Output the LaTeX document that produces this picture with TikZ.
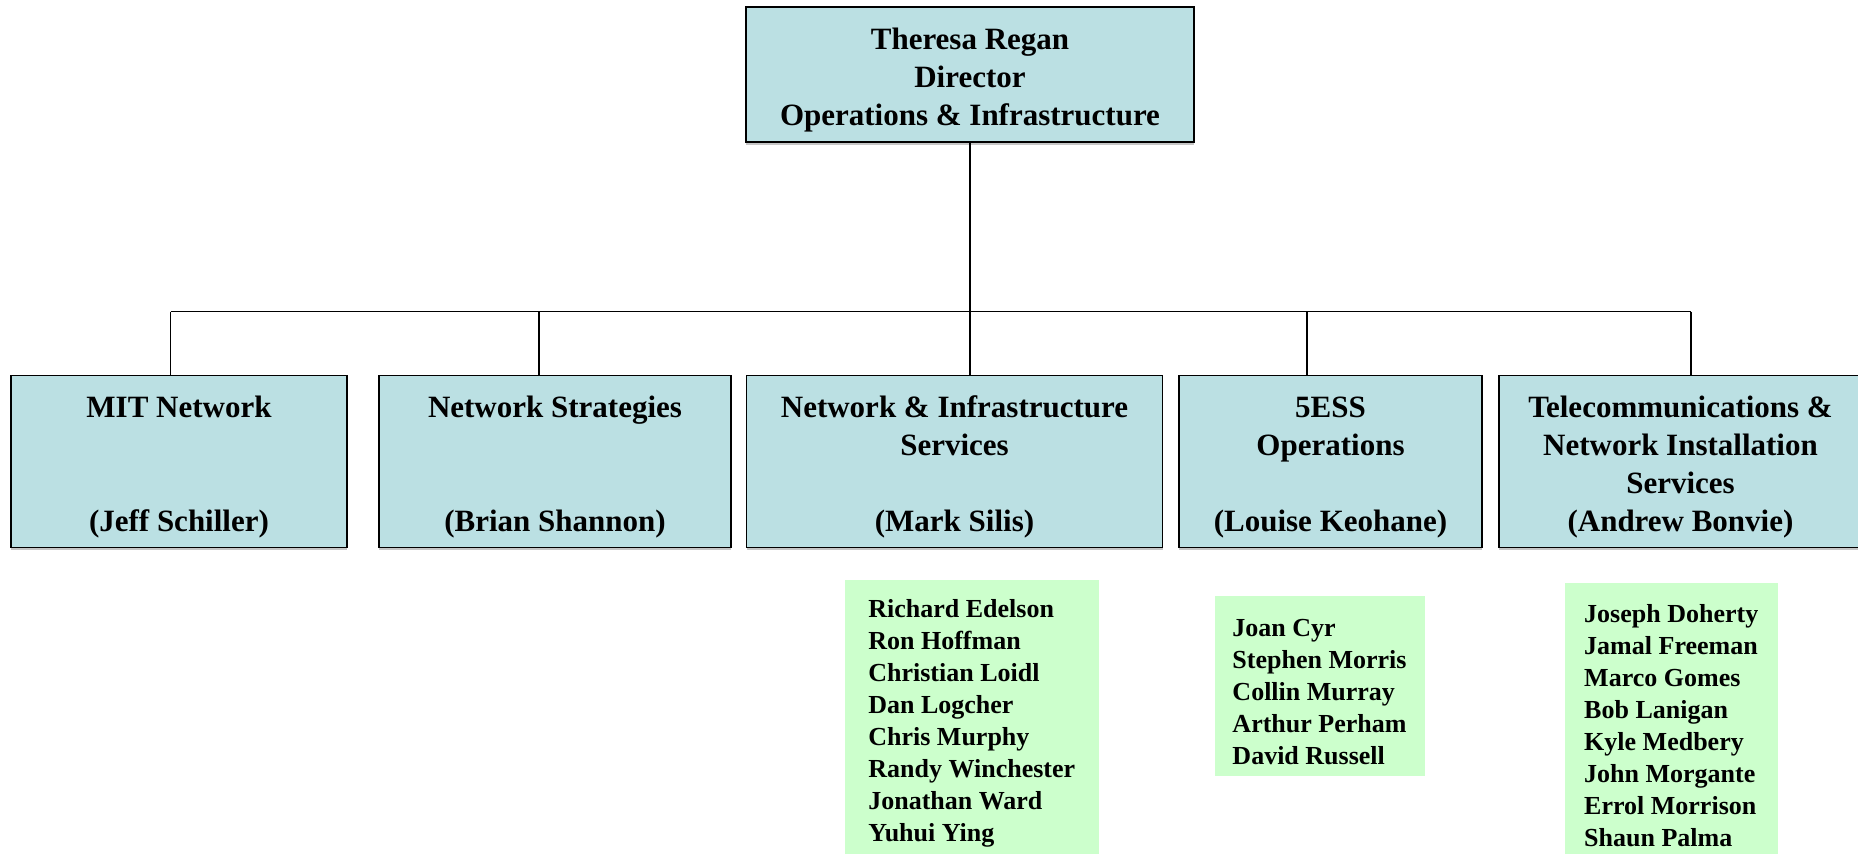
\documentclass[tikz,border=0pt]{standalone}
\usepackage{fontspec}
\setmainfont{Liberation Serif}
\usetikzlibrary{shadows}
\definecolor{boxblue}{HTML}{BBE0E3}
\definecolor{namegreen}{HTML}{CCFFCC}
\newcommand\bigtop{\rule{0pt}{33pt}}
\newcommand\smalltop{\rule{0pt}{30pt}}
\begin{document}
\begin{tikzpicture}[x=1pt,y=-1pt,
  unitbox/.style={draw=black, line width=1.8pt, fill=boxblue, align=center,
    font=\bfseries\fontsize{31}{38}\selectfont, inner sep=0pt,
    drop shadow={shadow xshift=0pt, shadow yshift=-2.5pt, opacity=0.45, fill=gray}},
  namebox/.style={fill=namegreen, draw=none, align=left,
    font=\bfseries\fontsize{26}{32}\selectfont, inner sep=0pt},
  link/.style={line width=1.6pt}]
\useasboundingbox (0,0) rectangle (1858,854);

% director
\node[unitbox, minimum width=448pt, minimum height=135pt] (dir) at (970,74.5)
  {\bigtop Theresa Regan\\Director\\Operations \& Infrastructure};

% units
\node[unitbox, minimum width=336.5pt, minimum height=172pt] (b1) at (179,461.5)
  {\bigtop MIT Network\\\mbox{}\\\mbox{}\\(Jeff Schiller)};
\node[unitbox, minimum width=352pt, minimum height=172pt] (b2) at (555,461.5)
  {\bigtop Network Strategies\\\mbox{}\\\mbox{}\\(Brian Shannon)};
\node[unitbox, minimum width=416pt, minimum height=172pt] (b3) at (954.5,461.5)
  {\bigtop Network \& Infrastructure\\Services\\\mbox{}\\(Mark Silis)};
\node[unitbox, minimum width=303pt, minimum height=172pt] (b4) at (1330.5,461.5)
  {\bigtop 5ESS\\Operations\\\mbox{}\\(Louise Keohane)};
\node[unitbox, minimum width=363pt, minimum height=172pt] (b5) at (1680.5,461.5)
  {\bigtop Telecommunications \&\\Network Installation\\Services\\(Andrew Bonvie)};

% staff lists
\node[namebox, minimum width=253.5pt, minimum height=276.5pt] (gA) at (971.75,717.75)
  {\smalltop Richard Edelson\\Ron Hoffman\\Christian Loidl\\Dan Logcher\\Chris Murphy\\Randy Winchester\\Jonathan Ward\\Yuhui Ying};
\node[namebox, minimum width=210pt, minimum height=180pt] (gB) at (1319.5,686)
  {\smalltop Joan Cyr\\Stephen Morris\\Collin Murray\\Arthur Perham\\David Russell};
\node[namebox, minimum width=212.5pt, minimum height=273pt] (gC) at (1671.25,719.5)
  {\smalltop Joseph Doherty\\Jamal Freeman\\Marco Gomes\\Bob Lanigan\\Kyle Medbery\\John Morgante\\Errol Morrison\\Shaun Palma};

% connectors
\coordinate (barL) at (170.6,311.6);
\coordinate (d2) at (539,311.6);
\coordinate (d4) at (1307,311.6);
\coordinate (barR) at (1691,311.6);
\draw[link] (dir.south) -- (dir.south |- b3.north);
\draw[link] (barL) -- (barR);
\draw[link] (barL) -- (barL |- b1.north);
\draw[link] (d2) -- (d2 |- b2.north);
\draw[link] (d4) -- (d4 |- b4.north);
\draw[link] (barR) -- (barR |- b5.north);
\end{tikzpicture}
\end{document}
